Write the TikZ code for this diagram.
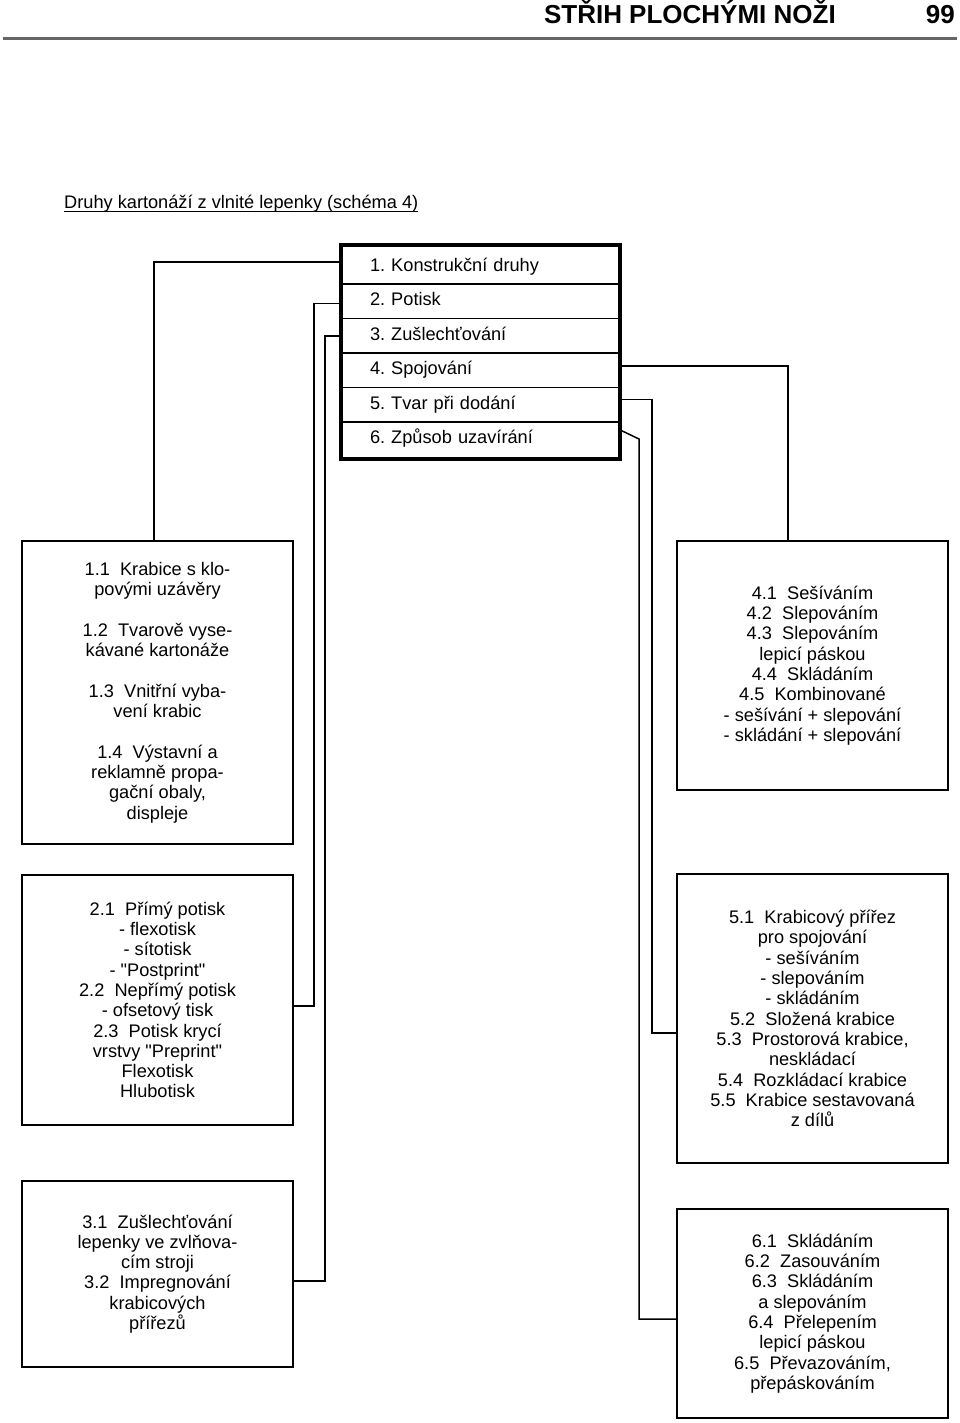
\documentclass[tikz,border=0pt]{standalone}
\usepackage{fontspec}
\setmainfont{Liberation Sans}[Ligatures=TeXOff]
\usetikzlibrary{positioning}
\frenchspacing
\newcommand{\itemNum}[1]{#1~~}
\newcommand{\boxFont}{\fontsize{18.2}{20.3}\selectfont}
\newcommand{\headFont}{\bfseries\fontsize{26}{28}\selectfont}
\newcommand{\groupGap}{\\[20.3pt]}

\begin{document}
\begin{tikzpicture}[%%
  x=1pt,y=-1pt,%%
  boxStyle/.style={draw,line width=1.5pt,minimum width=271pt,inner sep=0pt,align=center,font=\boxFont},%%
  rowStyle/.style={minimum height=34pt,inner ysep=0pt,inner xsep=29pt,text width=221pt,%%
    text height=13pt,text depth=4pt,align=left,font=\boxFont},%%
  lineStyle/.style={-,line width=1.5pt},%%
  frameStyle/.style={-,line width=4pt},%%
  ruleStyle/.style={-,line width=3pt,black!60}
]
\useasboundingbox (0,0) rectangle (960,1423);
%%
%%
\pgfmathsetmacro{\leftX}{157.5}
\pgfmathsetmacro{\rightX}{812.5}
\coordinate (ruleStart) at (3,39);
\coordinate (ruleEnd) at (957,39);
\coordinate (potiskX) at (314,0);
\coordinate (zuslX) at (325,0);
\coordinate (spojX) at (788,0);
\coordinate (tvarX) at (652,0);
\coordinate (uzavX) at (639,0);
%%
%%
%% The page head.
\node (title) at (836,24) [anchor=base east,inner sep=0pt,font=\headFont] {STŘIH PLOCHÝMI NOŽI};
\node (page) at (955,24) [anchor=base east,inner sep=0pt,font=\headFont] {99};
\draw[ruleStyle] (ruleStart) -- (ruleEnd);
%% The heading of the scheme, underlined.
\node (heading) at (64,209) [anchor=base west,inner sep=0pt,font=\boxFont] {Druhy kartonáží z vlnité lepenky (schéma 4)};
\draw[line width=1pt] ([yshift=-3pt]heading.base west) -- ([yshift=-3pt]heading.base east);
%%
%% The main box with its six rows.
\node[rowStyle] (row1) at (480.5,267) {1. Konstrukční druhy};
\node[rowStyle,below=0pt of row1] (row2) {2. Potisk};
\node[rowStyle,below=0pt of row2] (row3) {3. Zušlechťování};
\node[rowStyle,below=0pt of row3] (row4) {4. Spojování};
\node[rowStyle,below=0pt of row4] (row5) {5. Tvar při dodání};
\node[rowStyle,below=0pt of row5] (row6) {6. Způsob uzavírání};
\foreach \r in {1,...,5}
  \draw[lineStyle] (row\r.south west) -- (row\r.south east);
\draw[frameStyle] ([yshift=5pt]row1.north west) rectangle ([yshift=-3pt]row6.south east);
%%
%% The boxes on the left.
\node[boxStyle,minimum height=303pt] (box1) at (\leftX,692.5) {%%
  \itemNum{1.1}Krabice s klo-\\povými uzávěry\groupGap
  \itemNum{1.2}Tvarově vyse-\\kávané kartonáže\groupGap
  \itemNum{1.3}Vnitřní vyba-\\vení krabic\groupGap
  \itemNum{1.4}Výstavní a\\reklamně propa-\\gační obaly,\\displeje};
\node[boxStyle,minimum height=250pt] (box2) at (\leftX,1000) {%%
  \itemNum{2.1}Přímý potisk\\- flexotisk\\- sítotisk\\- "Postprint"\\
  \itemNum{2.2}Nepřímý potisk\\- ofsetový tisk\\
  \itemNum{2.3}Potisk krycí\\vrstvy "Preprint"\\Flexotisk\\Hlubotisk};
\node[boxStyle,minimum height=186pt] (box3) at (\leftX,1274) {%%
  \itemNum{3.1}Zušlechťování\\lepenky ve zvlňova-\\cím stroji\\
  \itemNum{3.2}Impregnování\\krabicových\\přířezů};
%%
%% The boxes on the right.
\node[boxStyle,minimum height=249pt] (box4) at (\rightX,665.5) {%%
  \itemNum{4.1}Sešíváním\\\itemNum{4.2}Slepováním\\
  \itemNum{4.3}Slepováním\\lepicí páskou\\\itemNum{4.4}Skládáním\\
  \itemNum{4.5}Kombinované\\- sešívání + slepování\\- skládání + slepování};
\node[boxStyle,minimum height=289pt] (box5) at (\rightX,1018.5) {%%
  \itemNum{5.1}Krabicový přířez\\pro spojování\\- sešíváním\\- slepováním\\- skládáním\\
  \itemNum{5.2}Složená krabice\\\itemNum{5.3}Prostorová krabice,\\neskládací\\
  \itemNum{5.4}Rozkládací krabice\\\itemNum{5.5}Krabice sestavovaná\\z dílů};
\node[boxStyle,minimum height=209pt] (box6) at (\rightX,1313.5) {%%
  \itemNum{6.1}Skládáním\\\itemNum{6.2}Zasouváním\\
  \itemNum{6.3}Skládáním\\a slepováním\\
  \itemNum{6.4}Přelepením\\lepicí páskou\\
  \itemNum{6.5}Převazováním,\\přepáskováním};
%%
%% Where the connectors leave the rows and meet the boxes.
\coordinate (konStart) at ([yshift=5pt]row1.west);
\coordinate (konEnd) at ([xshift=-3.5pt]box1.north);
\coordinate (potStart) at ([yshift=-2pt]row2.west);
\coordinate (potEnd) at ([yshift=-6pt]box2.east);
\coordinate (zusStart) at (row3.west);
\coordinate (zusEnd) at ([yshift=-7pt]box3.east);
\coordinate (spoStart) at ([yshift=4pt]row4.east);
\coordinate (tvaStart) at ([yshift=5pt]row5.east);
\coordinate (tvaEnd) at ([yshift=-14.5pt]box5.west);
\coordinate (uzaStart) at ([yshift=9pt]row6.east);
\coordinate (uzaEnd) at ([yshift=-5.5pt]box6.west);
%%
%% Connect each row with its box.
\draw[lineStyle] (konStart) -| (konEnd);
\draw[lineStyle] (potStart) -- (potStart -| potiskX) |- (potEnd);
\draw[lineStyle] (zusStart) -- (zusStart -| zuslX) |- (zusEnd);
\draw[lineStyle] (spoStart) -| (spojX |- box4.north);
\draw[lineStyle] (tvaStart) -- (tvaStart -| tvarX) |- (tvaEnd);
\draw[lineStyle] (uzaStart) -- (uzavX |- row6.east) |- (uzaEnd);
\end{tikzpicture}
\end{document}
